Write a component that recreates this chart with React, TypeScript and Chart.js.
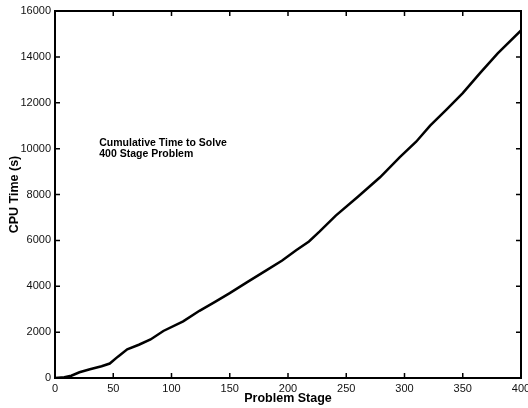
import React, { useEffect, useRef } from "react";
import { Chart, registerables } from "chart.js";

Chart.register(...registerables);

const stages = [0, 8, 14, 21, 30, 40, 47, 54, 62, 72, 82, 93, 110, 124, 137, 150, 165, 181, 195, 207, 218, 227, 241, 260, 279, 296, 310, 322, 336, 350, 365, 380, 400];
const cpuTime = [0, 30, 100, 250, 380, 510, 630, 930, 1250, 1450, 1680, 2050, 2470, 2930, 3310, 3700, 4180, 4680, 5120, 5570, 5950, 6380, 7080, 7900, 8750, 9630, 10300, 11000, 11700, 12420, 13300, 14150, 15150];

const xTicks = [0, 50, 100, 150, 200, 250, 300, 350, 400];
const yTicks = [0, 2000, 4000, 6000, 8000, 10000, 12000, 14000, 16000];

const annotationLines = ["Cumulative Time to Solve", "400 Stage Problem"];
const annotationAt = { x: 38, y: 10250 };

const FONT = "'Liberation Sans', Arial, Helvetica, sans-serif";

const framePlugin = {
  id: "frameTicks",
  afterDatasetsDraw(chart: any) {
    const { ctx, chartArea, scales } = chart;
    const { left, right, top, bottom } = chartArea;
    const xs = scales.x;
    const ys = scales.y;
    const tl = 5;
    ctx.save();
    ctx.strokeStyle = "#000";
    ctx.lineWidth = 1.5;
    ctx.beginPath();
    for (const v of xTicks) {
      const px = xs.getPixelForValue(v);
      ctx.moveTo(px, bottom);
      ctx.lineTo(px, bottom - tl);
      ctx.moveTo(px, top);
      ctx.lineTo(px, top + tl);
    }
    for (const v of yTicks) {
      const py = ys.getPixelForValue(v);
      ctx.moveTo(left, py);
      ctx.lineTo(left + tl, py);
      ctx.moveTo(right, py);
      ctx.lineTo(right - tl, py);
    }
    ctx.stroke();
    ctx.lineWidth = 2;
    ctx.strokeRect(left, top, right - left, bottom - top);

    ctx.fillStyle = "#000";
    ctx.font = `bold 10.5px ${FONT}`;
    ctx.textBaseline = "middle";
    ctx.textAlign = "left";
    const ax = xs.getPixelForValue(annotationAt.x);
    const ay = ys.getPixelForValue(annotationAt.y);
    annotationLines.forEach((t, i) => ctx.fillText(t, ax, ay + i * 11.5));
    ctx.restore();
  },
};

export default function App() {
  const ref = useRef<HTMLCanvasElement>(null);
  useEffect(() => {
    document.body.style.margin = "0";
    const chart = new Chart(ref.current!, {
      type: "line",
      data: {
        datasets: [
          {
            data: stages.map((s, i) => ({ x: s, y: cpuTime[i] })),
            borderColor: "#000",
            borderWidth: 2.5,
            pointRadius: 0,
            tension: 0,
            fill: false,
          },
        ],
      },
      options: {
        animation: false,
        responsive: false,
        events: [],
        layout: { padding: { top: 11, right: 7, left: 0, bottom: 0 }, autoPadding: false },
        plugins: { legend: { display: false }, tooltip: { enabled: false } },
        scales: {
          x: {
            type: "linear",
            min: 0,
            max: 400,
            afterFit: (s: any) => {
              s.height = 30;
              s.paddingLeft = 0;
              s.paddingRight = 0;
            },
            afterBuildTicks: (s: any) => {
              s.ticks = xTicks.map((v) => ({ value: v }));
            },
            grid: { display: false, drawTicks: false },
            border: { display: false },
            ticks: {
              color: "#111",
              padding: 4,
              maxRotation: 0,
              autoSkip: false,
              font: { family: FONT, size: 11 },
              callback: (v: any) => String(v),
            },
            title: {
              display: true,
              text: "Problem Stage",
              color: "#000",
              font: { family: FONT, size: 12.5, weight: "bold" },
              padding: { top: 0, bottom: 2 },
            },
          },
          y: {
            type: "linear",
            min: 0,
            max: 16000,
            afterFit: (s: any) => {
              s.width = 55;
              s.paddingTop = 0;
              s.paddingBottom = 0;
            },
            afterBuildTicks: (s: any) => {
              s.ticks = yTicks.map((v) => ({ value: v }));
            },
            grid: { display: false, drawTicks: false },
            border: { display: false },
            ticks: {
              color: "#111",
              padding: 4,
              autoSkip: false,
              font: { family: FONT, size: 11 },
              callback: (v: any) => String(v),
            },
            title: {
              display: true,
              text: "CPU Time (s)",
              color: "#000",
              font: { family: FONT, size: 12.5, weight: "bold" },
              padding: { top: 7, bottom: 0 },
            },
          },
        },
      },
      plugins: [framePlugin],
    } as any);
    return () => chart.destroy();
  }, []);
  return (
    <div style={{ width: 528, height: 408, position: "relative", background: "#fff" }}>
      <canvas ref={ref} width={528} height={408} style={{ display: "block" }} />
    </div>
  );
}
